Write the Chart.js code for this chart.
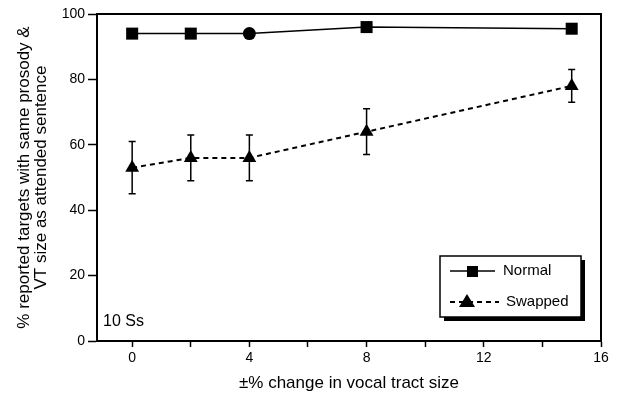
<!DOCTYPE html>
<html>
<head>
<meta charset="utf-8">
<script src="https://cdn.jsdelivr.net/npm/chart.js@4"></script>
<style>
  html, body { margin: 0; padding: 0; background: #fff; }
  #wrap { width: 621px; height: 396px; }
</style>
</head>
<body>
<div id="wrap"><canvas id="chart" width="621" height="396"></canvas></div>
<script>
// data
const sizeChange = [0, 2, 4, 8, 15];
const normal = [94, 94, 94, 96, 95.5];
const swapped = [53, 56, 56, 64, 78];
const swappedLow = [45, 49, 49, 57, 73];
const swappedHigh = [61, 63, 63, 71, 83];
const xTicks = [0, 2, 4, 6, 8, 10, 12, 14, 16];
const yTicks = [0, 20, 40, 60, 80, 100];

const FONT = "'Liberation Sans', Arial, sans-serif";

// error bars, frame, legend box and the "10 Ss" note
const extras = {
  id: "extras",
  beforeDatasetsDraw(chart) {
    const { ctx, scales: { x, y } } = chart;
    ctx.save();
    ctx.strokeStyle = "#000";
    ctx.lineWidth = 1.5;
    sizeChange.forEach((v, i) => {
      const px = x.getPixelForValue(v);
      const lo = y.getPixelForValue(swappedLow[i]);
      const hi = y.getPixelForValue(swappedHigh[i]);
      ctx.beginPath();
      ctx.moveTo(px, lo); ctx.lineTo(px, hi);
      ctx.moveTo(px - 3.5, lo); ctx.lineTo(px + 3.5, lo);
      ctx.moveTo(px - 3.5, hi); ctx.lineTo(px + 3.5, hi);
      ctx.stroke();
    });
    ctx.restore();
  },
  afterDraw(chart) {
    const { ctx, chartArea: a } = chart;
    ctx.save();
    ctx.strokeStyle = "#000";
    ctx.lineWidth = 2;
    ctx.beginPath();
    ctx.moveTo(a.left, a.top);
    ctx.lineTo(a.right, a.top);
    ctx.lineTo(a.right, a.bottom);
    ctx.stroke();

    // legend box with drop shadow
    const bx = 440, by = 256, bw = 141, bh = 61;
    ctx.fillStyle = "#000";
    ctx.fillRect(bx + 4, by + 4, bw, bh);
    ctx.fillStyle = "#fff";
    ctx.fillRect(bx, by, bw, bh);
    ctx.lineWidth = 1.5;
    ctx.strokeRect(bx, by, bw, bh);

    ctx.fillStyle = "#000";
    ctx.lineWidth = 1.5;
    ctx.beginPath();
    ctx.moveTo(450, 271); ctx.lineTo(495, 271);
    ctx.stroke();
    ctx.fillRect(467, 266, 11, 11);

    ctx.setLineDash([5, 4]);
    ctx.lineWidth = 2;
    ctx.beginPath();
    ctx.moveTo(450, 302); ctx.lineTo(499, 302);
    ctx.stroke();
    ctx.setLineDash([]);
    ctx.beginPath();
    ctx.moveTo(467, 294); ctx.lineTo(475, 307); ctx.lineTo(459, 307);
    ctx.closePath();
    ctx.fill();

    ctx.font = "15px " + FONT;
    ctx.textBaseline = "middle";
    ctx.fillText("Normal", 503, 271);
    ctx.fillText("Swapped", 506, 302);
    ctx.font = "16px " + FONT;
    ctx.fillText("10 Ss", 103, 322);
    ctx.restore();
  }
};

new Chart(document.getElementById("chart"), {
  type: "line",
  data: {
    datasets: [
      {
        label: "Normal",
        data: sizeChange.map((v, i) => ({ x: v, y: normal[i] })),
        borderColor: "#000",
        backgroundColor: "#000",
        borderWidth: 1.5,
        pointStyle: ["rect", "rect", "circle", "rect", "rect"],
        pointRadius: [8.5, 8.5, 6.5, 8.5, 8.5],
        pointBorderWidth: 0,
      },
      {
        label: "Swapped",
        data: sizeChange.map((v, i) => ({ x: v, y: swapped[i] })),
        borderColor: "#000",
        backgroundColor: "#000",
        borderWidth: 2,
        borderDash: [5, 4],
        pointStyle: "triangle",
        pointRadius: 8,
        pointBorderWidth: 0,
      },
    ],
  },
  plugins: [extras],
  options: {
    responsive: false,
    animation: false,
    layout: { padding: { top: 14, right: 20, left: 0, bottom: 0 } },
    plugins: { legend: { display: false }, tooltip: { enabled: false } },
    scales: {
      x: {
        type: "linear",
        min: -1.2,
        max: 16,
        afterBuildTicks: (s) => { s.ticks = xTicks.map((v) => ({ value: v })); },
        afterFit: (s) => { s.height = 55; },
        grid: { drawOnChartArea: false, tickLength: 6, tickWidth: 1.5, color: "#000" },
        border: { color: "#000", width: 2 },
        ticks: {
          color: "#000",
          font: { family: FONT, size: 14 },
          padding: 3,
          maxRotation: 0,
          autoSkip: false,
          callback: (v) => (v % 4 === 0 ? v : ""),
        },
        title: {
          display: true,
          text: "±% change in vocal tract size",
          color: "#000",
          font: { family: FONT, size: 17, lineHeight: 1.2 },
          padding: { top: 0, bottom: 2 },
        },
      },
      y: {
        min: 0,
        max: 100,
        afterBuildTicks: (s) => { s.ticks = yTicks.map((v) => ({ value: v })); },
        afterFit: (s) => { s.width = 97; },
        grid: { drawOnChartArea: false, tickLength: 9, tickWidth: 1.5, color: "#000" },
        border: { color: "#000", width: 2 },
        ticks: {
          color: "#000",
          font: { family: FONT, size: 14 },
          padding: 3,
        },
        title: {
          display: true,
          text: ["% reported targets with same prosody &", "VT size as attended sentence"],
          color: "#000",
          font: { family: FONT, size: 17, lineHeight: 1.0 },
          padding: { top: 16, bottom: 0 },
        },
      },
    },
  },
});
</script>
</body>
</html>
